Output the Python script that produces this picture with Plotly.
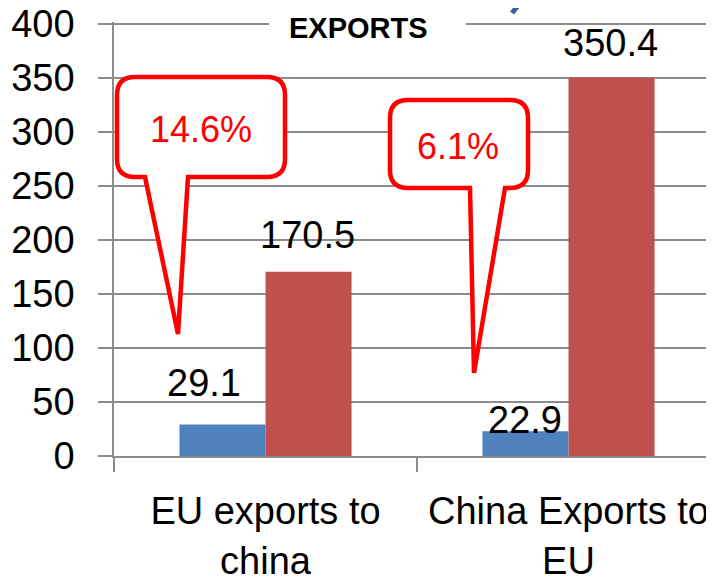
import plotly.graph_objects as go

# ---- data ----
categories = ["EU exports to<br>china", "China Exports to<br>EU"]
blue_values = [29.1, 22.9]
red_values = [170.5, 350.4]
blue_labels = ["29.1", "22.9"]
red_labels = ["170.5", "350.4"]
callout_texts = ["14.6%", "6.1%"]
title_text = "EXPORTS"
y_ticks = [0, 50, 100, 150, 200, 250, 300, 350, 400]

# ---- style / layout geometry ----
OFF = 8                      # browser default body margin
W, H = 714 - OFF, 577 - OFF
SCALE = 1.08                 # px per unit on the value axis
L, T = 114 - OFF, 22 - OFF   # plot-area origin inside the figure
PW, PH = W - L, 434
Y_TOP = PH / SCALE
FONT = "Liberation Sans, Arial, sans-serif"
GRID = "#8c8c8c"
BLUE = "#4f81bd"
RED = "#c0504d"


def px(x):
    # page pixel -> paper fraction
    return (x - OFF - L) / PW


def py(y):
    return (T + PH - (y - OFF)) / PH


def callout_path(l, t, r, b, rad, bl, br, tx, ty):
    pts = []
    pts.append(f"M {px(l + rad)} {py(t)}")
    pts.append(f"L {px(r - rad)} {py(t)}")
    pts.append(f"Q {px(r)} {py(t)} {px(r)} {py(t + rad)}")
    pts.append(f"L {px(r)} {py(b - rad)}")
    pts.append(f"Q {px(r)} {py(b)} {px(r - rad)} {py(b)}")
    pts.append(f"L {px(br)} {py(b)}")
    pts.append(f"L {px(tx)} {py(ty)}")
    pts.append(f"L {px(bl)} {py(b)}")
    pts.append(f"L {px(l + rad)} {py(b)}")
    pts.append(f"Q {px(l)} {py(b)} {px(l)} {py(b - rad)}")
    pts.append(f"L {px(l)} {py(t + rad)}")
    pts.append(f"Q {px(l)} {py(t)} {px(l + rad)} {py(t)}")
    pts.append("Z")
    return " ".join(pts)


fig = go.Figure()
fig.add_trace(go.Bar(x=categories, y=blue_values, marker_color=BLUE,
                     marker_line_width=0, showlegend=False))
fig.add_trace(go.Bar(x=categories, y=red_values, marker_color=RED,
                     marker_line_width=0, showlegend=False))

# value labels
blue_xshift = [-62, -44]
blue_yshift = [42, 11]
red_xshift = [42, 42]
red_yshift = [37, 35]
annotations = []
for i, c in enumerate(categories):
    annotations.append(dict(x=c, y=blue_values[i], xref="x", yref="y",
                            text=blue_labels[i], showarrow=False,
                            xshift=blue_xshift[i], yshift=blue_yshift[i],
                            yanchor="middle",
                            font=dict(family=FONT, size=38, color="black")))
    annotations.append(dict(x=c, y=red_values[i], xref="x", yref="y",
                            text=red_labels[i], showarrow=False,
                            xshift=red_xshift[i], yshift=red_yshift[i],
                            yanchor="middle",
                            font=dict(family=FONT, size=38, color="black")))

# callouts (page pixel geometry)
callout_geom = [
    dict(l=117, t=77, r=285, b=177, rad=18, bl=145, br=188, tx=178, ty=334, cx=201, cy=129),
    dict(l=390, t=100, r=528, b=188, rad=18, bl=470, br=505, tx=474, ty=373, cx=458, cy=146),
]
shapes = []
# white gap behind title
shapes.append(dict(type="rect", xref="paper", yref="paper",
                   x0=px(269), x1=px(466), y0=py(36), y1=py(12),
                   fillcolor="white", line_width=0, layer="above"))
for g, txt in zip(callout_geom, callout_texts):
    shapes.append(dict(type="path", xref="paper", yref="paper",
                       path=callout_path(g["l"], g["t"], g["r"], g["b"], g["rad"],
                                         g["bl"], g["br"], g["tx"], g["ty"]),
                       fillcolor="white", line=dict(color="#ff0000", width=4.5),
                       layer="above"))
    annotations.append(dict(x=px(g["cx"]), y=py(g["cy"]), xref="paper", yref="paper",
                            text=txt, showarrow=False, xanchor="center", yanchor="middle",
                            font=dict(family=FONT, size=36, color="#ff0000")))

# decorative blue stroke at the top edge
shapes.append(dict(type="line", xref="paper", yref="paper",
                   x0=px(521), y0=py(2), x1=px(512), y1=py(13),
                   line=dict(color="#3d639e", width=5), layer="above"))

annotations.append(dict(x=px(358), y=py(28), xref="paper", yref="paper",
                        text=f"<b>{title_text}</b>", showarrow=False,
                        xanchor="center", yanchor="middle",
                        font=dict(family=FONT, size=29, color="black")))

fig.update_layout(
    width=W, height=H,
    margin=dict(l=L, r=0, t=T, b=H - T - PH, pad=0, autoexpand=False),
    plot_bgcolor="white", paper_bgcolor="white",
    barmode="group", bargap=0.432, bargroupgap=0,
    annotations=annotations, shapes=shapes,
    font=dict(family=FONT, color="black"),
)
fig.update_xaxes(
    type="category", range=[-0.5, -0.5 + PW / 303.0], automargin=False,
    tickson="boundaries", ticks="outside", ticklen=14, tickwidth=1.5, tickcolor=GRID,
    showline=True, linecolor=GRID, linewidth=1.5, showgrid=False,
    tickfont=dict(family=FONT, size=38, color="black"),
    ticklabelstandoff=21, ticklabeloverflow="allow",
)
fig.update_yaxes(
    range=[0, Y_TOP], tickvals=y_ticks, ticks="outside", ticklen=14, tickwidth=1.5,
    tickcolor=GRID, showline=True, linecolor=GRID, linewidth=1.5, automargin=False,
    gridcolor=GRID, gridwidth=1.5, zeroline=False,
    tickfont=dict(family=FONT, size=38, color="black"),
    ticklabelstandoff=16, ticklabeloverflow="allow",
)

fig.write_html("out.html")
